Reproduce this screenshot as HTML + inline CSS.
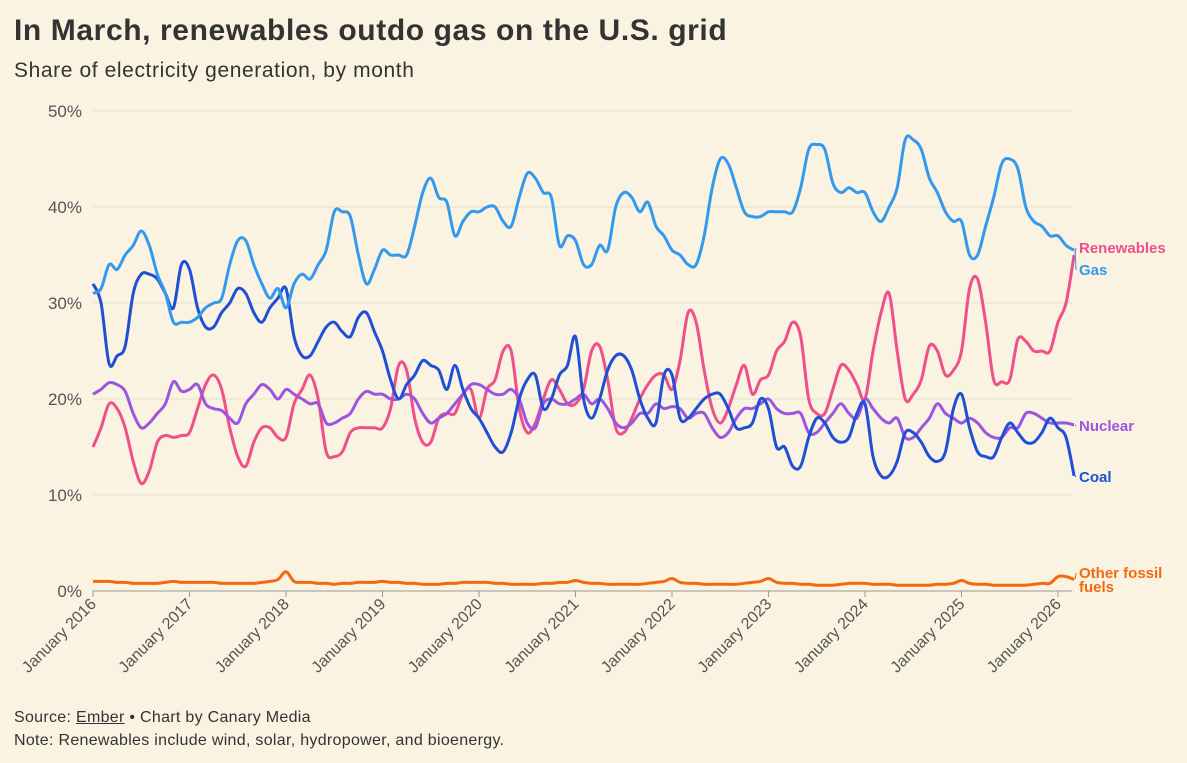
<!DOCTYPE html>
<html><head><meta charset="utf-8">
<style>
body{margin:0;background:#faf3e1;font-family:"Liberation Sans",sans-serif;}
#wrap{position:relative;width:1187px;height:763px;background:#faf3e1;overflow:hidden}
h1{position:absolute;left:14px;top:14px;margin:0;font-size:30px;font-weight:bold;color:#333;letter-spacing:0.6px}
.sub{position:absolute;left:14px;top:59px;font-size:21px;color:#333;letter-spacing:0.6px}
.foot{position:absolute;left:14px;font-size:16px;color:#333;letter-spacing:0.3px}
svg{position:absolute;left:0;top:0}
</style></head><body>
<div id="wrap">
<h1>In March, renewables outdo gas on the U.S. grid</h1>
<div class="sub">Share of electricity generation, by month</div>
<svg id="chart" width="1187" height="763"></svg>
<div class="foot" style="top:709px">Source: <u>Ember</u> • Chart by Canary Media</div>
<div class="foot" style="top:732px">Note: Renewables include wind, solar, hydropower, and bioenergy.</div>
</div>
<script>
const startYear = 2016;
const yTicks = [0,10,20,30,40,50];
const yearLabels = ["January 2016","January 2017","January 2018","January 2019","January 2020","January 2021","January 2022","January 2023","January 2024","January 2025","January 2026"];
const gas = [31,31.5,34,33.5,35,36,37.5,36,33,31,28,28,
28,28.5,29.5,30,30.5,34,36.5,36.5,34,32,30.5,31.5,
29.5,32,33,32.5,34,35.5,39.5,39.5,39,35,32,33.5,
35.5,35,35,35,38,41.5,43,41,40.5,37,38.5,39.5,
39.5,40,40,38.5,38,41,43.5,43,41.5,41,36,37,
36.5,34,34,36,35.5,40,41.5,41,39.5,40.5,38,37,
35.5,35,34,34,37,42,45,44.5,42,39.5,39,39,
39.5,39.5,39.5,39.5,42,46,46.5,46,42.5,41.5,42,41.5,
41.5,39.5,38.5,40,42,47,47,46,43,41.5,39.5,38.5,
38.5,35,35,38,41,44.5,45,44,40,38.5,38,37,
37,36,35.5];
const coal = [32,30,23.7,24.5,25.5,31,33,33,32.5,31,29.5,34,
33.5,29.5,27.5,27.5,29,30,31.5,31,29,28,29.5,30.5,
31.5,26.5,24.5,24.5,26,27.5,28,27,26.5,28.5,29,27,
25,22,20,21.5,22.5,24,23.5,23,21,23.5,21,19,
18,16.5,15,14.5,16.5,20,22,22.5,19,20,22.5,23.5,
26.5,20,18,20,23,24.5,24.5,23,20,18,17.5,22.5,
22.5,18,18,19,20,20.5,20.5,19,17,17,17.5,20,
19,15,15,13,13,16,18,17.5,16,15.5,16,18.5,
19.5,14,12,12,13.5,16.5,16.5,15.5,14,13.5,14.5,19,
20.5,17,14.5,14,14,16,17.5,16.5,15.5,15.5,16.5,18,
17,16,12];
const nuclear = [20.5,21,21.7,21.5,20.8,18.5,17,17.5,18.5,19.5,21.8,20.8,
21,21.5,19.5,19,18.8,18,17.5,19.5,20.5,21.5,21,20,
21,20.5,20,19.5,19.5,17.5,17.5,18,18.5,20,20.8,20.5,
20.5,20,20,20.5,20,18.5,17.5,18,18.5,19.5,20.5,21.5,
21.5,21,20.5,20.5,21,20,17.5,17,19.5,20,19.5,19.5,
20,20.5,19.5,20,19,17.5,17,17.5,18.5,18.5,19.5,19,
19.2,19,18,18.5,18.5,17,16,16.5,18,19,19,19.5,
20,19,18.5,18.5,18.5,16.5,16.5,17.5,18.5,19.5,18.5,18,
20,19,18,17.5,18,16,16,17,18,19.5,18.5,18,
17.5,18,17.5,16.5,16,16,17,17,18.5,18.5,18,17.5,
17.5,17.5,17.3];
const renewables = [15,17,19.5,19,17,13.5,11.2,12.5,15.5,16.2,16,16.2,
16.5,19,21.5,22.5,21,17,14,13,15.5,17,17,16,
16,19.5,21,22.5,20,14.5,14,14.5,16.5,17,17,17,
17,19,23.5,23,18,15.5,15.5,18,18.5,18.5,20.5,21,
18,21,22,25,25,19,16.5,17.5,20,22,21,19.5,
19.5,21,25,25.5,22,17,16.5,18,20,21.5,22.5,22.5,
21,24,29,28,23,19,17.5,19,21.5,23.5,20.5,22,
22.5,25,26,28,26.5,20,18.5,18.5,21,23.5,23,21.5,
20,25,29,31,25,20,20.5,22,25.5,25,22.5,23,
25,31.5,32.5,28,22,21.8,22,26.2,26,25,25,25,
28,30,35];
const other = [1,1,1,0.9,0.9,0.8,0.8,0.8,0.8,0.9,1,0.9,
0.9,0.9,0.9,0.9,0.8,0.8,0.8,0.8,0.8,0.9,1,1.2,
2,1,0.9,0.9,0.8,0.8,0.7,0.8,0.8,0.9,0.9,0.9,
1,0.9,0.9,0.8,0.8,0.7,0.7,0.7,0.8,0.8,0.9,0.9,
0.9,0.9,0.8,0.8,0.7,0.7,0.7,0.7,0.8,0.8,0.9,0.9,
1.1,0.9,0.8,0.8,0.7,0.7,0.7,0.7,0.7,0.8,0.9,1,
1.3,0.9,0.8,0.8,0.7,0.7,0.7,0.7,0.7,0.8,0.9,1,
1.3,0.9,0.8,0.8,0.7,0.7,0.6,0.6,0.6,0.7,0.8,0.8,
0.8,0.7,0.7,0.7,0.6,0.6,0.6,0.6,0.6,0.7,0.7,0.8,
1.1,0.8,0.7,0.7,0.6,0.6,0.6,0.6,0.6,0.7,0.8,0.8,
1.5,1.5,1.2];

const svg = document.getElementById('chart');
const NS = 'http://www.w3.org/2000/svg';
const x0 = 93, x1 = 1058, y0 = 591, y50 = 111;
function xScale(i){ return x0 + (x1 - x0) * i / 120; }
function yScale(v){ return y0 + (y50 - y0) * v / 50; }
function mk(tag, attrs){ const e = document.createElementNS(NS, tag); for (const k in attrs) e.setAttribute(k, attrs[k]); svg.appendChild(e); return e; }

yTicks.forEach(t => {
  const y = yScale(t);
  const g = mk('line', {x1: x0, x2: 1072, y1: y, y2: y, stroke: t === 0 ? '#999' : '#e6e0d0', 'stroke-width': 1});
  
  
  const tx = mk('text', {x: 82, y: y + 6, 'text-anchor': 'end', 'font-size': 17, fill: '#555', 'font-family': 'Liberation Sans, sans-serif'});
  tx.textContent = t + '%';
  
  
});
yearLabels.forEach((lab, k) => {
  const x = xScale(k * 12);
  const tk = mk('line', {x1: x, x2: x, y1: y0, y2: y0 + 6, stroke: '#999'});
  
  
  const tx = mk('text', {x: x + 4, y: y0 + 14, 'text-anchor': 'end', 'font-size': 16, fill: '#555', transform: `rotate(-45 ${x + 4} ${y0 + 14})`, 'font-family': 'Liberation Sans, sans-serif'});
  tx.textContent = lab;
  
  
});
function pathFor(vals){
  const p = vals.map((v, i) => [xScale(i), yScale(v)]);
  let d = `M${p[0][0]},${p[0][1]}`;
  for (let i = 0; i < p.length - 1; i++) {
    const a = p[Math.max(0, i - 1)], b = p[i], c = p[i + 1], e = p[Math.min(p.length - 1, i + 2)];
    d += ` C${b[0] + (c[0] - a[0]) / 6},${b[1] + (c[1] - a[1]) / 6} ${c[0] - (e[0] - b[0]) / 6},${c[1] - (e[1] - b[1]) / 6} ${c[0]},${c[1]}`;
  }
  return d;
}
const series = [
  {vals: renewables, color: '#ef4f8b', name: 'renewables-line'},
  {vals: nuclear, color: '#9b55e0', name: 'nuclear-line'},
  {vals: coal, color: '#1f4fd6', name: 'coal-line'},
  {vals: gas, color: '#3399ee', name: 'gas-line'},
  {vals: other, color: '#f26a10', name: 'other-fossil-line'}
];
series.forEach(s => {
  const pth = mk('path', {d: pathFor(s.vals), fill: 'none', stroke: s.color, 'stroke-width': 3, 'stroke-linejoin': 'round'});
  
  
});
const labels = [
  {t: ['Renewables'], y: 253, c: '#ef4f8b', v: renewables, n: 'renewables-label'},
  {t: ['Gas'], y: 275, c: '#3399ee', v: gas, n: 'gas-label'},
  {t: ['Nuclear'], y: 431, c: '#9b55e0', v: nuclear, n: 'nuclear-label'},
  {t: ['Coal'], y: 482, c: '#1f4fd6', v: coal, n: 'coal-label'},
  {t: ['Other fossil', 'fuels'], y: 578, c: '#f26a10', v: other, n: 'other-fossil-label'}
];
labels.forEach(l => {
  const ex = xScale(l.v.length - 1), ey = yScale(l.v[l.v.length - 1]);
  const ln = mk('line', {x1: ex + 1, y1: ey, x2: 1076, y2: l.y - 5, stroke: l.c, 'stroke-width': 1});
  
  
  l.t.forEach((s, i) => {
    const tx = mk('text', {x: 1079, y: l.y + i * 14, 'font-size': 15, 'font-weight': 'bold', fill: l.c, 'font-family': 'Liberation Sans, sans-serif'});
    tx.textContent = s;
    
    
  });
});
</script>
</body></html>
